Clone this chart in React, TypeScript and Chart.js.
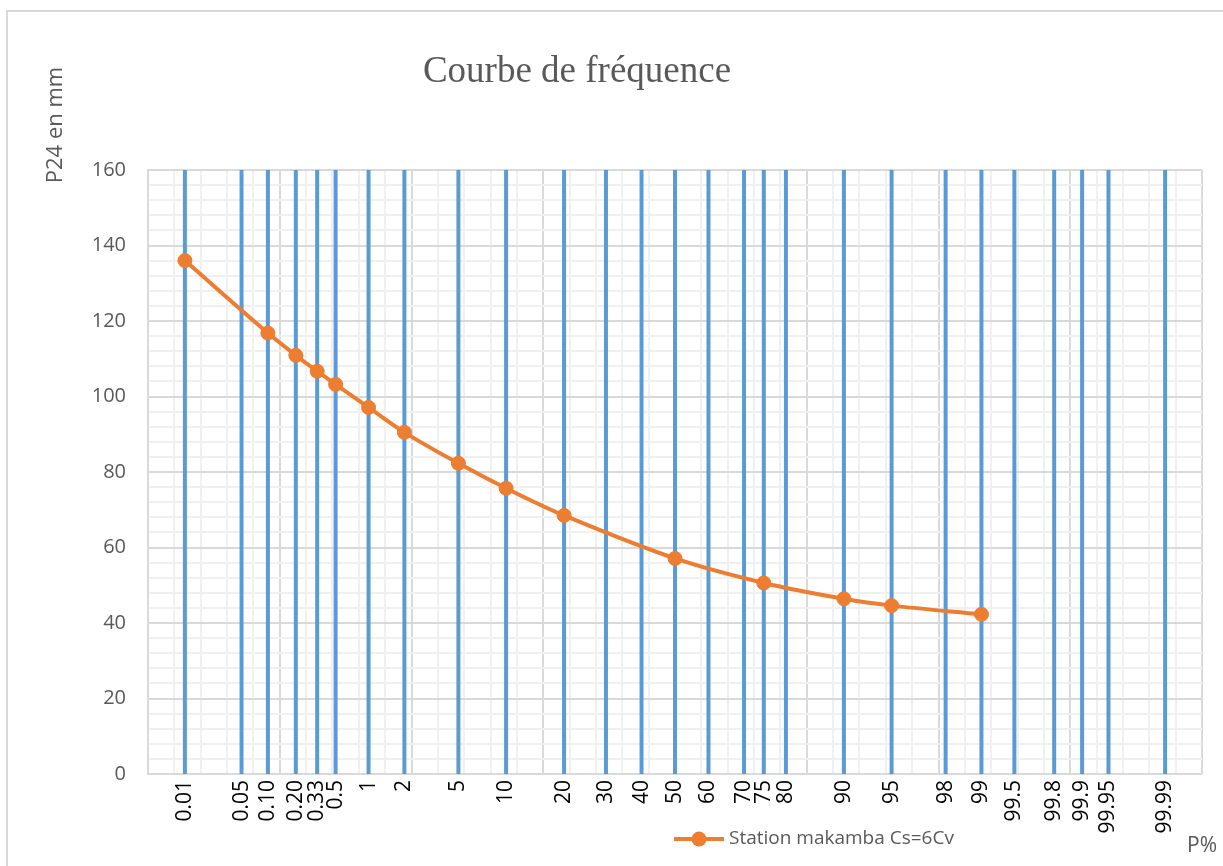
import React, { useEffect, useRef } from "react";
import { Chart, registerables } from "chart.js";

Chart.register(...registerables);

// Probability axis: tick labels and their positions on the (0..40) probability-paper scale
const PROB_LABELS = ["0.01", "0.05", "0.10", "0.20", "0.33", "0.5", "1", "2", "5", "10", "20", "30", "40", "50", "60", "70", "75", "80", "90", "95", "98", "99", "99.5", "99.8", "99.9", "99.95", "99.99"];
const PROB_POSITIONS = [1.40, 3.55, 4.55, 5.61, 6.42, 7.12, 8.37, 9.73, 11.78, 13.59, 15.79, 17.38, 18.73, 20.0, 21.27, 22.62, 23.37, 24.21, 26.41, 28.22, 30.27, 31.63, 32.88, 34.39, 35.45, 36.45, 38.60];

// Series: Station makamba Cs=6Cv
const SERIES_NAME = "Station makamba Cs=6Cv";
const SERIES_PROBS = ["0.01", "0.10", "0.20", "0.33", "0.5", "1", "2", "5", "10", "20", "50", "75", "90", "95", "99"];
const SERIES_VALUES = [136.0, 116.8, 110.9, 106.7, 103.2, 97.1, 90.5, 82.3, 75.7, 68.5, 57.1, 50.6, 46.4, 44.6, 42.3];

const Y_MIN = 0;
const Y_MAX = 160;
const X_MIN = 0;
const X_MAX = 40;

const GRAY_TEXT = "#595959";
const ORANGE = "#ED7D31";
const BLUE = "#5B9BD5";
const SANS = "'Open Sans', 'Noto Sans', sans-serif";

export default function App() {
  const ref = useRef<HTMLCanvasElement | null>(null);

  useEffect(() => {
    if (!ref.current) return;
    const posOf = (lab: string) => PROB_POSITIONS[PROB_LABELS.indexOf(lab)];

    const seriesData = SERIES_PROBS.map((p, i) => ({ x: posOf(p), y: SERIES_VALUES[i] }));
    const lineData: { x: number; y: number | null }[] = [];
    PROB_POSITIONS.forEach((p) => {
      lineData.push({ x: p, y: Y_MIN });
      lineData.push({ x: p, y: Y_MAX });
      lineData.push({ x: p, y: null });
    });

    const decor = {
      id: "decor",
      beforeDraw(chart: any) {
        const c = chart.ctx;
        c.save();
        c.fillStyle = "#ffffff";
        c.fillRect(0, 0, chart.width, chart.height);
        c.strokeStyle = "#d9d9d9";
        c.lineWidth = 2;
        c.strokeRect(7, 11, chart.width + 20, chart.height + 20);
        c.restore();
      },
      afterDraw(chart: any) {
        const c = chart.ctx;
        const area = chart.chartArea;
        c.save();
        // title
        c.fillStyle = GRAY_TEXT;
        c.font = "37px 'Liberation Serif', 'Times New Roman', serif";
        c.textAlign = "center";
        c.textBaseline = "alphabetic";
        c.fillText("Courbe de fréquence", 577, 82);
        // y axis title
        c.save();
        c.translate(62, 125);
        c.rotate(-Math.PI / 2);
        c.font = "22px " + SANS;
        c.textAlign = "center";
        c.textBaseline = "alphabetic";
        c.fillText("P24 en mm", 0, 0);
        c.restore();
        // x axis title
        c.font = "21px " + SANS;
        c.textAlign = "left";
        c.textBaseline = "alphabetic";
        c.fillText("P%", area.right - 15, 852);
        // legend
        const ds = chart.data.datasets[0];
        const ly = 839;
        c.strokeStyle = ds.borderColor;
        c.lineWidth = 4;
        c.beginPath();
        c.moveTo(674, ly);
        c.lineTo(724, ly);
        c.stroke();
        c.fillStyle = ds.backgroundColor;
        c.beginPath();
        c.arc(699, ly, 7.5, 0, Math.PI * 2);
        c.fill();
        c.fillStyle = GRAY_TEXT;
        c.font = "19px " + SANS;
        c.textBaseline = "middle";
        c.fillText(ds.label, 729, ly);
        c.restore();
      },
    };

    const chart = new Chart(ref.current, {
      type: "line",
      data: {
        datasets: [
          {
            label: SERIES_NAME,
            data: seriesData,
            borderColor: ORANGE,
            backgroundColor: ORANGE,
            borderWidth: 4,
            pointRadius: 7,
            pointBorderWidth: 1,
            pointBackgroundColor: ORANGE,
            pointBorderColor: ORANGE,
            tension: 0.35,
            order: 0,
            xAxisID: "x",
          },
          {
            label: "P lines",
            data: lineData,
            borderColor: BLUE,
            backgroundColor: BLUE,
            borderWidth: 4,
            pointRadius: 0,
            spanGaps: false,
            tension: 0,
            order: 1,
            xAxisID: "x",
          },
        ],
      },
      options: {
        animation: false,
        responsive: false,
        maintainAspectRatio: false,
        layout: { padding: { left: 0, top: 170, right: 21, bottom: 0 } },
        plugins: {
          legend: { display: false },
          title: { display: false },
          tooltip: { enabled: false },
        },
        scales: {
          x: {
            type: "linear",
            position: "bottom",
            min: X_MIN,
            max: X_MAX,
            ticks: { display: false, stepSize: 1 },
            border: { display: false },
            grid: {
              drawTicks: false,
              lineWidth: 2,
              color: (ctx: any) => (ctx.tick && Math.round(ctx.tick.value) % 5 === 0 ? "#d9d9d9" : "#f0f0f0"),
            },
            afterFit: (scale: any) => {
              scale.height = 0;
            },
          },
          xp: {
            type: "linear",
            position: "bottom",
            min: X_MIN,
            max: X_MAX,
            grid: { display: false, drawTicks: false },
            border: { display: false },
            afterBuildTicks: (scale: any) => {
              scale.ticks = PROB_POSITIONS.map((v) => ({ value: v }));
            },
            ticks: {
              autoSkip: false,
              minRotation: 90,
              maxRotation: 90,
              padding: 6,
              color: "#000000",
              font: { family: SANS, size: 21 },
              callback: (_v: any, i: number) => PROB_LABELS[i],
            },
            afterFit: (scale: any) => {
              scale.height = 92;
            },
          },
          y: {
            type: "linear",
            min: Y_MIN,
            max: Y_MAX,
            border: { display: true, color: "#d9d9d9", width: 2 },
            grid: {
              drawTicks: false,
              lineWidth: 2,
              color: (ctx: any) => (ctx.tick && Math.round(ctx.tick.value) % 20 === 0 ? "#d9d9d9" : "#f0f0f0"),
            },
            ticks: {
              stepSize: 4,
              autoSkip: false,
              padding: 22,
              color: GRAY_TEXT,
              font: { family: SANS, size: 20 },
              callback: (v: any) => (Math.round(v) % 20 === 0 ? String(v) : ""),
            },
            afterFit: (scale: any) => {
              scale.width = 148;
            },
          },
        },
      },
      plugins: [decor],
    });

    return () => chart.destroy();
  }, []);

  return (
    <div style={{ position: "absolute", left: 0, top: 0, width: 1223, height: 866 }}>
      <canvas ref={ref} width={1223} height={866} style={{ width: 1223, height: 866, display: "block" }} />
    </div>
  );
}
